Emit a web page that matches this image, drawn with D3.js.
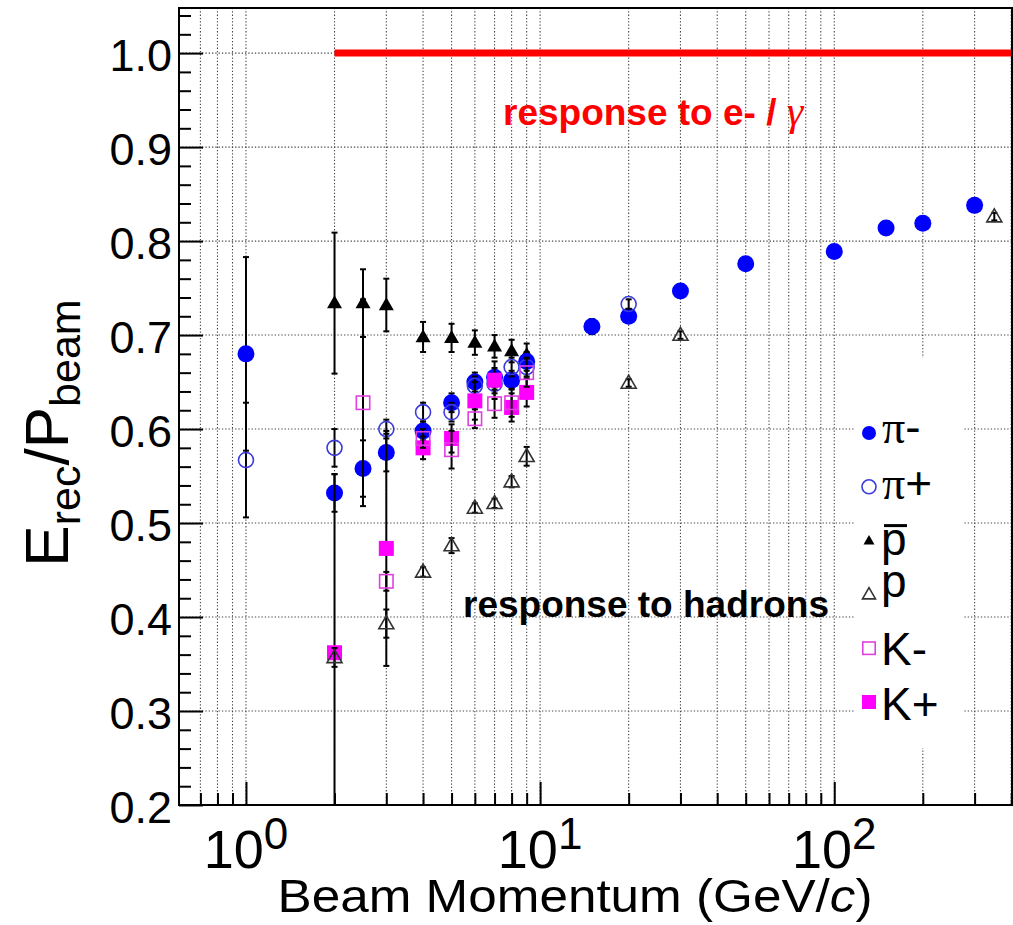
<!DOCTYPE html>
<html><head><meta charset="utf-8">
<script src="https://cdn.jsdelivr.net/npm/d3@7"></script>
<style>
html,body{margin:0;padding:0;background:#fff;}
svg{display:block;font-family:"Liberation Sans",Arial,Helvetica,sans-serif;}
</style>
</head><body>
<svg id="c" width="1013" height="925"></svg>
<script>
// ---------------- data ----------------
const piMinusX = [1, 2, 2.5, 3, 4, 5, 6, 7, 8, 9, 15, 20, 30, 50, 100, 150, 200, 300];
const piMinusY = [0.680, 0.532, 0.558, 0.575, 0.598, 0.628, 0.650, 0.655, 0.652, 0.672, 0.709, 0.720, 0.747, 0.776, 0.789, 0.814, 0.819, 0.838];
const piMinusE = [0.103, 0.02, 0.03, 0.02, 0.01, 0.01, 0.01, 0.01, 0.01, 0.01, 0.008, 0.005, 0.005, 0.004, 0.004, 0.004, 0.004, 0.004];

const piPlusX = [1, 2, 3, 4, 5, 6, 7, 8, 9, 20];
const piPlusY = [0.567, 0.580, 0.600, 0.618, 0.618, 0.646, 0.648, 0.666, 0.666, 0.733];
const piPlusE = [0.061, 0.02, 0.01, 0.01, 0.01, 0.01, 0.01, 0.01, 0.01, 0.005];

const pbarX = [2, 2.5, 3, 4, 5, 6, 7, 8, 9];
const pbarY = [0.734, 0.734, 0.732, 0.698, 0.697, 0.692, 0.688, 0.683, 0.679];
const pbarE = [0.075, 0.036, 0.028, 0.016, 0.015, 0.013, 0.012, 0.012, 0.012];

const protonX = [2, 3, 4, 5, 6, 7, 8, 9, 20, 30, 350];
const protonY = [0.357, 0.393, 0.448, 0.476, 0.516, 0.521, 0.544, 0.571, 0.649, 0.700, 0.826];
const protonE = [0.01, 0.015, 0.005, 0.008, 0.005, 0.005, 0.006, 0.01, 0.004, 0.004, 0.004];

const kMinusX = [2.5, 3, 4, 5, 6, 7, 8, 9];
const kMinusY = [0.628, 0.438, 0.590, 0.578, 0.611, 0.627, 0.628, 0.660];
const kMinusE = [0.11, 0.01, 0.01, 0.02, 0.01, 0.015, 0.015, 0.015];

const kPlusX = [2, 3, 4, 5, 6, 7, 8, 9];
const kPlusY = [0.362, 0.473, 0.580, 0.590, 0.630, 0.652, 0.623, 0.639];
const kPlusE = [0.19, 0.125, 0.012, 0.015, 0.02, 0.02, 0.015, 0.015];

const legendLabels = ["π-", "π+", "p̄", "p", "K-", "K+"];
const yTickLabels = ["0.2", "0.3", "0.4", "0.5", "0.6", "0.7", "0.8", "0.9", "1.0"];
const xDecades = [1, 10, 100];
const xDecadeExp = ["0", "1", "2"];
const eGammaLevel = 1.0;
const eGammaStartX = 2;

// ---------------- layout ----------------
const svg = d3.select("#c");
const L = 179, R = 1012, T = 8, B = 805;
const x = d3.scaleLog().domain([0.592, 402]).range([L, R]);
const y = d3.scaleLinear().domain([0.2, 1.048]).range([B, T]);

// grid positions (log minor positions)
const gridX = [];
[0.1, 1, 10, 100].forEach(dec => { for (let k = 1; k <= 9; k++) { const v = k * dec; if (v > 0.65 && v < 401) gridX.push(+v.toPrecision(3)); } });
gridX.push(400);
const yMajor = yTickLabels.map(Number);
const yMinor = d3.range(0.2, 1.048, 0.02).map(v => +v.toFixed(2)).filter(v => Math.abs(v * 10 - Math.round(v * 10)) > 1e-6);

svg.append("defs").append("clipPath").attr("id", "clip")
  .append("rect").attr("x", L).attr("y", T).attr("width", R - L).attr("height", B - T);

// grid
const grid = svg.append("g").attr("stroke", "#444").attr("stroke-width", 1.1).attr("stroke-dasharray", "1.3,2");
grid.selectAll(".gx").data(gridX).join("line")
  .attr("x1", d => x(d)).attr("x2", d => x(d)).attr("y1", T).attr("y2", B);
grid.selectAll(".gy").data(yMajor.filter(v => v > 0.25)).join("line")
  .attr("x1", L).attr("x2", R).attr("y1", d => y(d)).attr("y2", d => y(d));

// axes (ticks inside)
const axX = svg.append("g").attr("transform", `translate(0,${B})`)
  .call(d3.axisBottom(x).tickValues(gridX.filter(v => !xDecades.includes(v))).tickSize(-12).tickFormat(""));
const axX2 = svg.append("g").attr("transform", `translate(0,${B})`)
  .call(d3.axisBottom(x).tickValues(xDecades).tickSize(-23).tickFormat(""));
const axY = svg.append("g").attr("transform", `translate(${L},0)`)
  .call(d3.axisLeft(y).tickValues(yMajor).tickSize(-24).tickPadding(7).tickFormat((d, i) => yTickLabels[i]));
const axY2 = svg.append("g").attr("transform", `translate(${L},0)`)
  .call(d3.axisLeft(y).tickValues(yMinor).tickSize(-12).tickFormat(""));
[axX, axX2, axY, axY2].forEach(g => {
  g.select(".domain").remove();
  g.selectAll(".tick line").attr("stroke", "#000").attr("stroke-width", 2);
});
axY.selectAll(".tick text").attr("font-size", 45).attr("fill", "#000")
  .attr("font-family", "Liberation Sans, Arial, sans-serif").attr("dy", "0.39em");

// x decade labels with superscripts
const xl = svg.append("g");
xDecades.forEach((d, i) => {
  const t = xl.append("text").attr("x", x(d)).attr("y", 868).attr("text-anchor", "middle")
    .attr("font-size", 54).attr("fill", "#000");
  t.append("tspan").text("10");
  t.append("tspan").attr("font-size", 44).attr("dy", -19).text(xDecadeExp[i]);
});

// axis titles
const xt = svg.append("text").attr("x", 575).attr("y", 912).attr("text-anchor", "middle")
  .attr("font-size", 46).attr("fill", "#000").attr("textLength", 595).attr("lengthAdjust", "spacingAndGlyphs");
xt.append("tspan").text("Beam Momentum (GeV/");
xt.append("tspan").attr("font-style", "italic").text("c");
xt.append("tspan").text(")");

const yt = svg.append("text").attr("transform", "translate(68,433) rotate(-90)")
  .attr("text-anchor", "middle").attr("font-size", 62).attr("fill", "#000");
yt.append("tspan").text("E");
yt.append("tspan").attr("font-size", 43).attr("dy", 12).text("rec");
yt.append("tspan").attr("dy", -12).text("/P");
yt.append("tspan").attr("font-size", 43).attr("dy", 12).text("beam");

// e/gamma reference line
svg.append("line").attr("x1", x(eGammaStartX)).attr("x2", R).attr("y1", y(eGammaLevel)).attr("y2", y(eGammaLevel))
  .attr("stroke", "#ff0000").attr("stroke-width", 7);

// annotations
const rt = svg.append("text").attr("x", 503).attr("y", 125).attr("fill", "#ff0000")
  .attr("font-weight", "bold").attr("font-size", 37);
rt.append("tspan").text("response to e- / ");
rt.append("tspan").attr("font-family", "Liberation Serif, serif").attr("font-style", "italic")
  .attr("font-weight", "normal").attr("font-size", 42).text("γ");
svg.append("text").attr("x", 463).attr("y", 617).attr("fill", "#000")
  .attr("font-weight", "bold").attr("font-size", 37).text("response to hadrons");

// series
const series = [
  { xs: pbarX, ys: pbarY, es: pbarE, shape: "triUp", fill: "#000", stroke: "none", size: 15 },
  { xs: piMinusX, ys: piMinusY, es: piMinusE, shape: "circle", fill: "#0000ff", stroke: "none", size: 8.5 },
  { xs: piPlusX, ys: piPlusY, es: piPlusE, shape: "circle", fill: "none", stroke: "#3b3bdd", size: 7.5 },
  { xs: kPlusX, ys: kPlusY, es: kPlusE, shape: "square", fill: "#ff00ff", stroke: "none", size: 15 },
  { xs: kMinusX, ys: kMinusY, es: kMinusE, shape: "square", fill: "none", stroke: "#e040e0", size: 15 },
  { xs: protonX, ys: protonY, es: protonE, shape: "triUp", fill: "none", stroke: "#333", size: 15 },
];

function drawMarker(g, shape, cx, cy, size, fill, stroke) {
  if (shape === "circle") {
    g.append("circle").attr("cx", cx).attr("cy", cy).attr("r", size)
      .attr("fill", fill).attr("stroke", stroke).attr("stroke-width", 1.6);
  } else if (shape === "square") {
    const h = size / 2;
    g.append("rect").attr("x", cx - h + (stroke !== "none" ? 0.8 : 0)).attr("y", cy - h + (stroke !== "none" ? 0.8 : 0))
      .attr("width", size - (stroke !== "none" ? 1.6 : 0)).attr("height", size - (stroke !== "none" ? 1.6 : 0))
      .attr("fill", fill).attr("stroke", stroke).attr("stroke-width", 1.6);
  } else {
    const h = size * Math.sqrt(3) / 2;
    const pts = [[cx, cy - h * 0.6], [cx + size / 2, cy + h * 0.4], [cx - size / 2, cy + h * 0.4]];
    g.append("path").attr("d", "M" + pts.map(p => p.join(",")).join("L") + "Z")
      .attr("fill", fill).attr("stroke", stroke).attr("stroke-width", 1.6).attr("stroke-linejoin", "miter");
  }
}

const plot = svg.append("g").attr("clip-path", "url(#clip)");
series.forEach(s => {
  const g = plot.append("g");
  s.xs.forEach((xv, i) => {
    const cx = x(xv), v = s.ys[i], e = s.es[i];
    const y1 = y(v + e), y2 = y(v - e);
    g.append("line").attr("x1", cx).attr("x2", cx).attr("y1", y1).attr("y2", y2)
      .attr("stroke", "#000").attr("stroke-width", 2);
    [y1, y2].forEach(yy => g.append("line").attr("x1", cx - 3).attr("x2", cx + 3).attr("y1", yy).attr("y2", yy)
      .attr("stroke", "#000").attr("stroke-width", 2));
  });
  s.xs.forEach((xv, i) => drawMarker(g, s.shape, x(xv), y(s.ys[i]), s.size, s.fill, s.stroke));
});

// frame
svg.append("rect").attr("x", L).attr("y", T).attr("width", R - L).attr("height", B - T)
  .attr("fill", "none").attr("stroke", "#000").attr("stroke-width", 2);

// legend
const lg = svg.append("g");
lg.append("rect").attr("x", 855).attr("y", 358).attr("width", 108).attr("height", 390).attr("fill", "#fff");
const rowY = d3.range(legendLabels.length).map(i => 433 + i * 53.8);
const legendStyle = [
  { shape: "circle", fill: "#0000ff", stroke: "none", size: 7, dy: 10 },
  { shape: "circle", fill: "none", stroke: "#3b3bdd", size: 7, dy: 12 },
  { shape: "triUp", fill: "#000", stroke: "none", size: 11, dy: 14 },
  { shape: "triUp", fill: "none", stroke: "#333", size: 13, dy: 3 },
  { shape: "square", fill: "none", stroke: "#e040e0", size: 14, dy: 17 },
  { shape: "square", fill: "#ff00ff", stroke: "none", size: 14, dy: 18 },
];
legendLabels.forEach((lab, i) => {
  const st = legendStyle[i];
  drawMarker(lg, st.shape, 869, rowY[i], st.size, st.fill, st.stroke);
  const base = rowY[i] + st.dy;
  if (lab === "p̄") {
    lg.append("text").attr("x", 881).attr("y", base).attr("font-size", 46).attr("fill", "#000").text("p");
    lg.append("line").attr("x1", 884).attr("x2", 907).attr("y1", base - 29).attr("y2", base - 29)
      .attr("stroke", "#000").attr("stroke-width", 3);
  } else if (lab.startsWith("π")) {
    const t = lg.append("text").attr("x", 882).attr("y", base).attr("font-size", 46).attr("fill", "#000");
    t.append("tspan").attr("font-family", "Liberation Serif, serif").text("π");
    t.append("tspan").text(lab.slice(1));
  } else {
    lg.append("text").attr("x", 881).attr("y", base).attr("font-size", 46).attr("fill", "#000").text(lab);
  }
});
</script>
</body></html>
